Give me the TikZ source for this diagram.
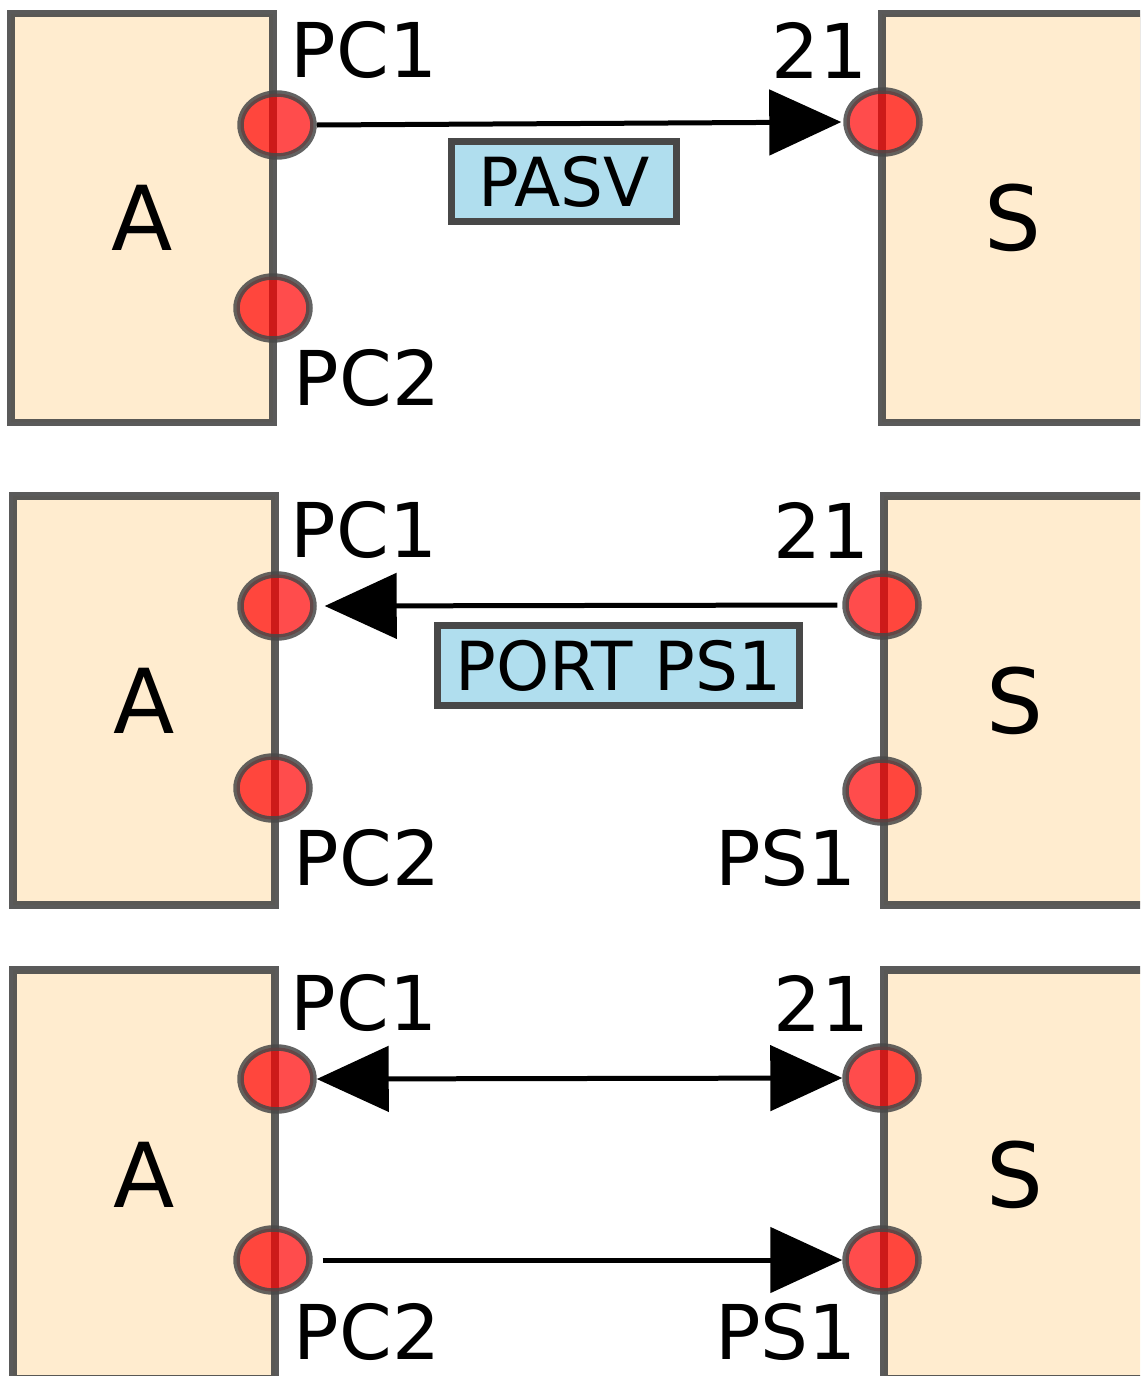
\documentclass[tikz,border=0pt]{standalone}
\usepackage{fontspec}
\setmainfont{DejaVu Sans}
\usepackage{tikz}
\usepackage{xcolor}
\usetikzlibrary{shapes.geometric, arrows.meta, positioning, calc}

\definecolor{cream}{RGB}{255,236,207}
\definecolor{msgblue}{RGB}{176,222,238}
\definecolor{edge}{RGB}{72,72,72}

\begin{document}
\begin{tikzpicture}[x=0.02cm, y=-0.02cm,
  host/.style={draw=edge, draw opacity=0.9, line width=0.15cm, fill=cream, minimum width=5.24cm, minimum height=8.18cm, inner sep=0pt, font=\fontsize{51}{60}\selectfont},
  port/.style={ellipse, draw=edge, draw opacity=0.85, line width=0.13cm, fill=red, fill opacity=0.7, minimum width=1.46cm, minimum height=1.26cm, inner sep=0pt},
  msg/.style={draw=edge, line width=0.13cm, fill=msgblue, inner sep=0pt, minimum height=1.6cm, font=\fontsize{38.5}{46}\selectfont},
  lbl/.style={inner sep=0pt, font=\fontsize{43}{50}\selectfont},
  flow/.style={line width=0.1cm, -{Triangle[length=1.44cm, width=1.3cm]}},
]
\useasboundingbox (0,0) rectangle (1140,1376);
\clip (0,0) rectangle (1140,1376);

% Panel 1: PASV
\node[host] (A1) at (142,218) {A};
\node[host] (S1) at (1013,218) {S};
\node[port] (pc1a) at (277,125) {};
\node[port] (pc2a) at (273,308) {};
\node[port] (s21a) at (883,122) {};
\node[lbl] (lpc1a) at (364,50) {PC1};
\node[lbl] (lpc2a) at (367,378) {PC2};
\node[lbl] (l21a) at (820,50) {21};
\draw[flow, shorten >=0.04cm] (pc1a.east) -- (s21a.west);
\node[msg, minimum width=4.5cm] (pasv) at (564,181.5) {PASV};

% Panel 2: PORT
\node[host] (A2) at (144,700.5) {A};
\node[host] (S2) at (1015,700.5) {S};
\node[port] (pc1b) at (277,606) {};
\node[port] (pc2b) at (273,788) {};
\node[port] (s21b) at (882,605) {};
\node[port] (ps1b) at (882,791) {};
\node[lbl] (lpc1b) at (364,530) {PC1};
\node[lbl] (lpc2b) at (367,858) {PC2};
\node[lbl] (l21b) at (822,530) {21};
\node[lbl] (lps1b) at (786,858) {PS1};
\draw[flow, shorten <=0.1cm, shorten >=0.16cm] (s21b.west) -- (pc1b.east);
\node[msg, minimum width=7.24cm] (port) at (618.5,665.5) {PORT PS1};

% Panel 3: data connection
\node[host] (A3) at (144,1174.5) {A};
\node[host] (S3) at (1015,1174.5) {S};
\node[port] (pc1c) at (277,1079) {};
\node[port] (pc2c) at (273,1260) {};
\node[port] (s21c) at (882,1078) {};
\node[port] (ps1c) at (882,1260) {};
\node[lbl] (lpc1c) at (364,1003) {PC1};
\node[lbl] (lpc2c) at (367,1332) {PC2};
\node[lbl] (l21c) at (822,1003) {21};
\node[lbl] (lps1c) at (786,1332) {PS1};
\draw[flow, {Triangle[length=1.44cm, width=1.3cm]}-{Triangle[length=1.44cm, width=1.3cm]}] (pc1c.east) -- (s21c.west);
\draw[flow, shorten <=0.2cm] (pc2c.east) -- (ps1c.west);
\end{tikzpicture}
\end{document}
